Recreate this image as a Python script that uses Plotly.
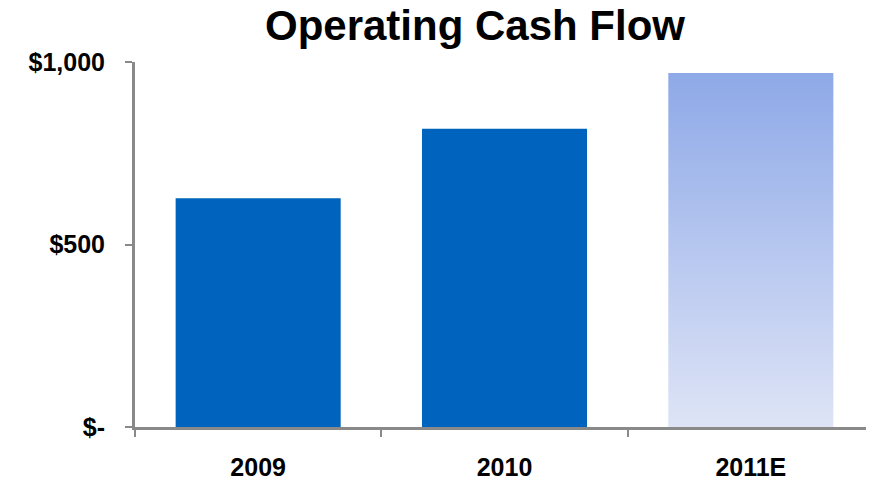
import plotly.graph_objects as go

categories = ["2009", "2010", "2011E"]
values = [627, 817, 970]
ytick_vals = [0, 500, 1000]
ytick_text = ["$-", "$500", "$1,000"]

bar_w = 0.67
positions = list(range(len(categories)))

fig = go.Figure()
fig.add_trace(go.Bar(
    x=positions[:2], y=values[:2], width=bar_w,
    marker=dict(color="#0063be", line=dict(width=0)),
    hoverinfo="skip",
))

# gradient-filled estimate bar
xc = positions[2]
v = values[2]
fig.add_trace(go.Scatter(
    x=[xc - bar_w / 2, xc + bar_w / 2, xc + bar_w / 2, xc - bar_w / 2, xc - bar_w / 2],
    y=[0, 0, v, v, 0],
    mode="lines", line=dict(width=0),
    fill="toself",
    fillgradient=dict(type="vertical",
                      colorscale=[[0, "#dee4f6"], [1, "#8ea9e8"]]),
    hoverinfo="skip",
))

axis_color = "#898989"
W, H = 866, 473
fig.update_layout(
    width=W, height=H,
    margin=dict(l=127, r=0, t=54, b=52),
    paper_bgcolor="white", plot_bgcolor="white",
    showlegend=False,
    font=dict(family="Liberation Sans, Arial, sans-serif", color="black"),
    title=dict(text="<b>Operating Cash Flow</b>", x=467 / W, xanchor="center",
               yref="container", y=1 - 17.5 / H, yanchor="middle",
               font=dict(size=42, color="black")),
    xaxis=dict(
        range=[-0.5, 2.5], tickvals=positions, ticktext=[f"<b>{c}</b>" for c in categories],
        ticks="", showgrid=False, zeroline=False,
        showline=True, linecolor=axis_color, linewidth=3,
        tickfont=dict(size=25),
        ticklabelstandoff=16,
        minor=dict(tickvals=[-0.5, 0.5, 1.5, 2.5], ticks="outside", ticklen=7,
                   tickwidth=2, tickcolor=axis_color, showgrid=False),
        fixedrange=True,
    ),
    yaxis=dict(
        range=[0, 1000], tickvals=ytick_vals, ticktext=[f"<b>{t}</b>" for t in ytick_text],
        ticks="outside", ticklen=7, tickwidth=2, tickcolor=axis_color,
        showgrid=False, zeroline=False,
        showline=True, linecolor=axis_color, linewidth=3,
        tickfont=dict(size=25),
        ticklabelstandoff=15,
        fixedrange=True,
    ),
)

fig.write_html("out.html")
